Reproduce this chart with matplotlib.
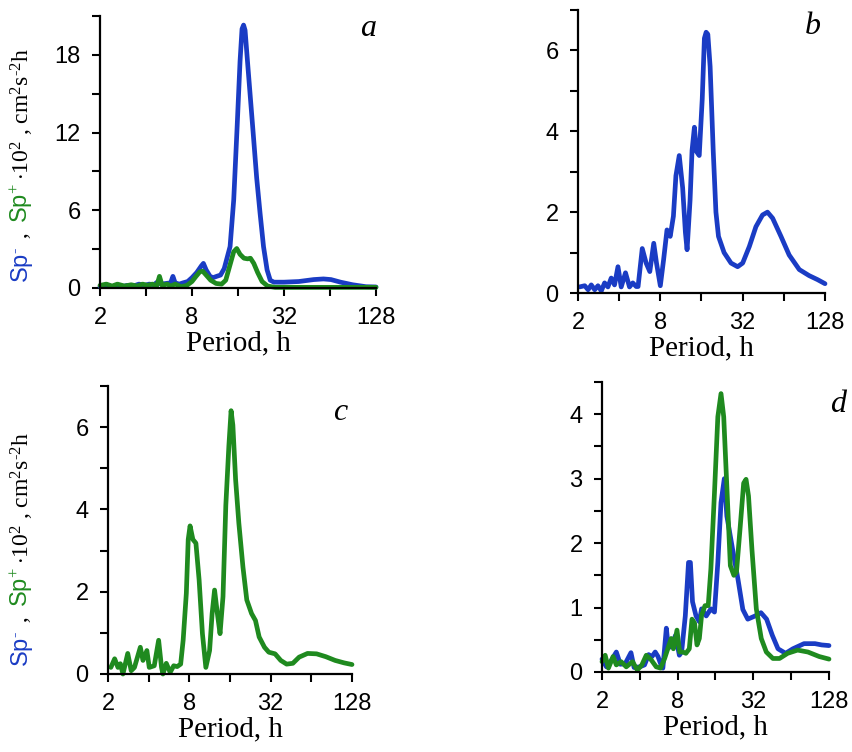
import matplotlib
matplotlib.use("Agg")
import matplotlib.pyplot as plt
from matplotlib.ticker import FixedLocator, FixedFormatter, NullLocator

plt.rcParams['mathtext.fontset'] = 'custom'
plt.rcParams['mathtext.rm'] = 'Liberation Serif'
plt.rcParams['mathtext.it'] = 'Liberation Serif:italic'
plt.rcParams['mathtext.sf'] = 'Liberation Sans'

BLUE = '#1a3cc4'
GREEN = '#1f8a1f'

# ---------------- data ----------------
# panel a: Sp- (blue) and Sp+*10^2 (green)
a_blue_period = [2.0, 2.2, 2.4, 2.6, 2.8, 3.0, 3.3, 3.6, 3.9, 4.2, 4.5, 4.8, 5.0, 5.4, 5.8, 6.0, 6.2,
                 6.6, 7.0, 7.5, 8.0, 8.6, 9.2, 9.5, 9.9, 10.5, 11.0, 11.6, 12.3, 13.0, 14.2, 15.0,
                 15.8, 16.5, 17.0, 17.4, 17.8, 18.6, 20.1, 21.2, 22.3, 23.5, 24.8, 26.0, 27.5, 32, 40, 50,
                 58, 65, 75, 90, 110, 128]
a_blue_value = [0.1, 0.25, 0.1, 0.2, 0.1, 0.2, 0.15, 0.3, 0.2, 0.3, 0.25, 0.5, 0.3, 0.35, 0.4, 0.9, 0.4,
                0.3, 0.4, 0.5, 0.8, 1.2, 1.7, 1.9, 1.4, 0.9, 0.8, 0.9, 1.0, 1.5, 3.2, 6.8,
                12.5, 17.5, 20.0, 20.3, 19.9, 17.0, 12.0, 8.5, 5.8, 3.2, 1.4, 0.6, 0.45, 0.45, 0.5, 0.65,
                0.7, 0.65, 0.45, 0.25, 0.1, 0.08]
a_green_period = [2.0, 2.2, 2.4, 2.6, 2.9, 3.2, 3.5, 3.8, 4.1, 4.4, 4.7, 4.9, 5.1, 5.5, 5.8, 6.2, 6.8,
                  7.4, 8.0, 8.5, 9.0, 9.4, 9.9, 10.6, 11.5, 12.5, 13.3, 14.2, 15.0, 15.7, 16.5,
                  17.5, 18.5, 19.3, 20.3, 21.5, 23, 25, 28, 40, 128]
a_green_value = [0.2, 0.3, 0.15, 0.3, 0.15, 0.25, 0.15, 0.3, 0.2, 0.3, 0.15, 0.9, 0.2, 0.3, 0.15, 0.3, 0.1,
                 0.2, 0.5, 0.9, 1.25, 1.3, 1.0, 0.6, 0.35, 0.3, 0.6, 1.8, 2.8, 3.05, 2.6,
                 2.3, 2.25, 2.3, 1.9, 1.2, 0.5, 0.15, 0.05, 0.05, 0.05]

# panel b: Sp- (blue)
b_blue_period = [2.05, 2.24, 2.37, 2.5, 2.65, 2.8, 2.96, 3.13, 3.31, 3.5, 3.7, 3.92, 4.14, 4.45, 4.76,
                 5.03, 5.33, 5.5, 5.9, 6.3, 6.7, 7.16, 7.5, 8.0, 8.45, 8.95, 9.45, 9.97, 10.4, 11.0,
                 11.65, 12.2, 12.55, 13.2, 13.65, 14.2, 14.7, 15.4, 16.2, 16.8, 17.3, 17.8, 18.5, 19.5,
                 20.4, 21.3, 23.4, 26.3, 29.4, 32, 35.8, 40, 44.7, 48.6, 53, 61, 70, 83, 98, 113, 128]
b_blue_value = [0.15, 0.18, 0.08, 0.2, 0.08, 0.18, 0.05, 0.25, 0.15, 0.37, 0.2, 0.65, 0.15, 0.5, 0.15,
                0.25, 0.16, 0.16, 1.1, 0.74, 0.53, 1.23, 0.74, 0.18, 0.82, 1.56, 1.4, 1.9, 2.9, 3.4,
                2.6, 1.5, 1.07, 2.3, 3.53, 4.1, 3.5, 3.4, 4.8, 6.3, 6.45, 6.4, 5.6, 3.5,
                2.0, 1.4, 1.0, 0.74, 0.65, 0.74, 1.15, 1.64, 1.93, 2.0, 1.85, 1.4, 0.94, 0.58, 0.43,
                0.33, 0.23]

# panel c: Sp+*10^2 (green)
c_green_period = [2.1, 2.24, 2.37, 2.47, 2.58, 2.8, 2.97, 3.14, 3.47, 3.63, 3.88, 4.04, 4.4, 4.74,
                  4.98, 5.1, 5.4, 5.77, 6.13, 6.5, 6.9, 7.2, 7.6, 7.85, 8.1, 8.5, 8.95, 9.45, 10.0,
                  10.6, 11.3, 11.8, 12.3, 12.9, 13.5, 14.2, 14.9, 15.7, 16.3, 16.8, 17.6, 18.6,
                  19.95, 21.3, 23.1, 24.7, 26.3, 28.8, 31, 34.5, 38, 42, 46.7, 52, 60, 70, 82, 96,
                  112, 128]
c_green_value = [0.16, 0.37, 0.16, 0.25, 0.0, 0.5, 0.08, 0.16, 0.65, 0.33, 0.57, 0.16, 0.2, 0.82,
                 0.16, 0.0, 0.26, 0.04, 0.2, 0.18, 0.24, 0.82, 1.96, 3.27, 3.6, 3.27, 3.18, 2.29, 0.98,
                 0.16, 0.57, 1.47, 2.04, 1.47, 0.98, 1.88, 4.1, 5.55, 6.4, 6.05, 4.73, 3.67,
                 2.6, 1.8, 1.47, 1.3, 0.9, 0.65, 0.53, 0.49, 0.33, 0.24, 0.26, 0.41, 0.5, 0.49, 0.42,
                 0.33, 0.27, 0.23]

# panel d: Sp- (blue) and Sp+*10^2 (green)
d_blue_period = [2.0, 2.17, 2.34, 2.6, 2.8, 3.06, 3.4, 3.6, 4.0, 4.36, 4.7, 5.0, 5.3, 5.58, 5.9, 6.1,
                 6.5, 6.75, 7.15, 7.7, 8.25, 8.6, 9.2, 9.76, 10.1, 10.5, 11.2, 11.9, 12.4, 13.5,
                 14.7, 15.7, 16.7, 17.7, 18.8, 19.7, 21.9, 24.1, 26.4, 28.9, 33.1, 36.8, 40.8,
                 45.3, 50.3, 57.8, 66, 81, 99, 112, 128]
d_blue_value = [0.2, 0.08, 0.16, 0.31, 0.12, 0.13, 0.3, 0.07, 0.08, 0.11, 0.27, 0.24, 0.31, 0.24, 0.11,
                0.06, 0.68, 0.37, 0.42, 0.57, 0.26, 0.31, 0.87, 1.7, 1.7, 1.09, 0.87, 0.78, 0.98, 0.87,
                0.98, 0.93, 1.7, 2.63, 3.0, 2.42, 1.9, 1.45, 0.97, 0.82, 0.87, 0.92, 0.82,
                0.57, 0.36, 0.29, 0.36, 0.44, 0.44, 0.42, 0.41]
d_green_period = [2.0, 2.12, 2.25, 2.45, 2.6, 2.84, 3.12, 3.5, 3.82, 4.15, 4.5, 4.92, 5.4, 5.85,
                  6.3, 6.75, 7.1, 7.4, 7.9, 8.3, 8.8, 9.3, 9.9, 10.4, 10.9, 11.4, 11.9, 12.4, 13.2,
                  14.0, 14.7, 15.7, 16.7, 17.7, 18.6, 19.8, 21.0, 22.4, 23.5, 25.2, 26.8, 28.0,
                  29.3, 31.2, 33.8, 37.0, 40.6, 45.8, 51.7, 60, 72, 87, 107, 128]
d_green_value = [0.16, 0.26, 0.06, 0.24, 0.11, 0.16, 0.08, 0.16, 0.03, 0.11, 0.26, 0.19, 0.08, 0.06,
                 0.21, 0.39, 0.52, 0.36, 0.65, 0.31, 0.31, 0.29, 0.36, 0.82, 0.76, 0.42, 0.52, 0.88, 1.03,
                 1.03, 1.6, 2.78, 3.96, 4.32, 3.96, 2.78, 1.65, 1.5, 1.55, 2.27, 2.93, 2.99,
                 2.73, 1.9, 0.98, 0.52, 0.31, 0.21, 0.21, 0.29, 0.34, 0.31, 0.24, 0.2]

x_ticks = [2, 4, 8, 16, 32, 64, 128]
x_tick_labels = ['2', '', '8', '', '32', '', '128']

a_yticks = [0, 3, 6, 9, 12, 15, 18, 21]
a_ylabels = ['0', '', '6', '', '12', '', '18', '']
bc_yticks = [0, 1, 2, 3, 4, 5, 6, 7]
bc_ylabels = ['0', '', '2', '', '4', '', '6', '']
d_yticks = [0, 0.5, 1, 1.5, 2, 2.5, 3, 3.5, 4, 4.5]
d_ylabels = ['0', '', '1', '', '2', '', '3', '', '4', '']

panel_letters = ['a', 'b', 'c', 'd']

# ---------------- figure ----------------
W, H = 853, 752
fig = plt.figure(figsize=(W / 100, H / 100), dpi=100)

def px_axes(l, t, r, b):
    return fig.add_axes([l / W, 1 - b / H, (r - l) / W, (b - t) / H])

ax_a = px_axes(100, 16, 376, 288)
ax_b = px_axes(578, 10, 825, 293)
ax_c = px_axes(108, 386, 352, 674)
ax_d = px_axes(602, 382, 829, 672)

tick_family = ['Liberation Sans', 'DejaVu Sans']
serif = ['Liberation Serif', 'DejaVu Serif']
sans = ['Liberation Sans', 'DejaVu Sans']

def style(ax, yticks, ylabels):
    ax.set_xscale('log', base=2)
    ax.set_xlim(2, 128)
    ax.set_ylim(yticks[0], yticks[-1])
    ax.xaxis.set_major_locator(FixedLocator(x_ticks))
    ax.xaxis.set_major_formatter(FixedFormatter(x_tick_labels))
    ax.xaxis.set_minor_locator(NullLocator())
    ax.yaxis.set_major_locator(FixedLocator(yticks))
    ax.yaxis.set_major_formatter(FixedFormatter(ylabels))
    ax.yaxis.set_minor_locator(NullLocator())
    for s in ['top', 'right']:
        ax.spines[s].set_visible(False)
    for s in ['left', 'bottom']:
        ax.spines[s].set_linewidth(1.6)
    ax.tick_params(axis='both', direction='out', length=6, width=1.5)
    ax.tick_params(axis='x', pad=8)
    ax.tick_params(axis='y', pad=8)
    for lab in ax.get_xticklabels() + ax.get_yticklabels():
        lab.set_fontfamily(tick_family)
        lab.set_fontsize(17)
    ax.set_xlabel('Period, h', family=serif, fontsize=21, labelpad=1)
    ax.patch.set_visible(False)

lw = 3.4
kw = dict(lw=lw, clip_on=False, solid_joinstyle='round', solid_capstyle='round')
ax_a.plot(a_blue_period, a_blue_value, color=BLUE, **kw)
ax_a.plot(a_green_period, a_green_value, color=GREEN, **kw)
style(ax_a, a_yticks, a_ylabels)

ax_b.plot(b_blue_period, b_blue_value, color=BLUE, **kw)
style(ax_b, bc_yticks, bc_ylabels)

ax_c.plot(c_green_period, c_green_value, color=GREEN, **kw)
style(ax_c, bc_yticks, bc_ylabels)

ax_d.plot(d_blue_period, d_blue_value, color=BLUE, **kw)
ax_d.plot(d_green_period, d_green_value, color=GREEN, **kw)
style(ax_d, d_yticks, d_ylabels)

# panel letters
letter_pos = [(368, 28), (813, 26), (340, 412), (838, 404)]
for let, (x, y) in zip(panel_letters, letter_pos):
    fig.text(x / W, 1 - y / H, let, family=serif, style='italic',
             fontsize=23, ha='center', va='center')

# multi-coloured rotated y labels
renderer = fig.canvas.get_renderer()
pieces = [
    ('Sp$^{\\text{-}}$', BLUE, sans, 17),
    (' , ', 'black', serif, 17),
    ('Sp$^{+}$', GREEN, sans, 17),
    ('$\\cdot$10$^{2}$ , cm$^{2}$s$^{\\text{-}2}$h', 'black', serif, 17),
]

def ylabel_multi(xc, yc):
    texts = []
    total = 0
    for s, c, fam, fs in pieces:
        t = fig.text(0, 0, s, color=c, family=fam, fontsize=fs, rotation=90,
                     rotation_mode='anchor', ha='left', va='center')
        h = t.get_window_extent(renderer).height
        texts.append((t, h))
        total += h + 3
    y = yc - total / 2
    for t, h in texts:
        t.set_position((xc / W, y / H))
        y += h + 3

ylabel_multi(22, H - 164)
ylabel_multi(22, H - 548)

fig.savefig('out.png', dpi=100)
